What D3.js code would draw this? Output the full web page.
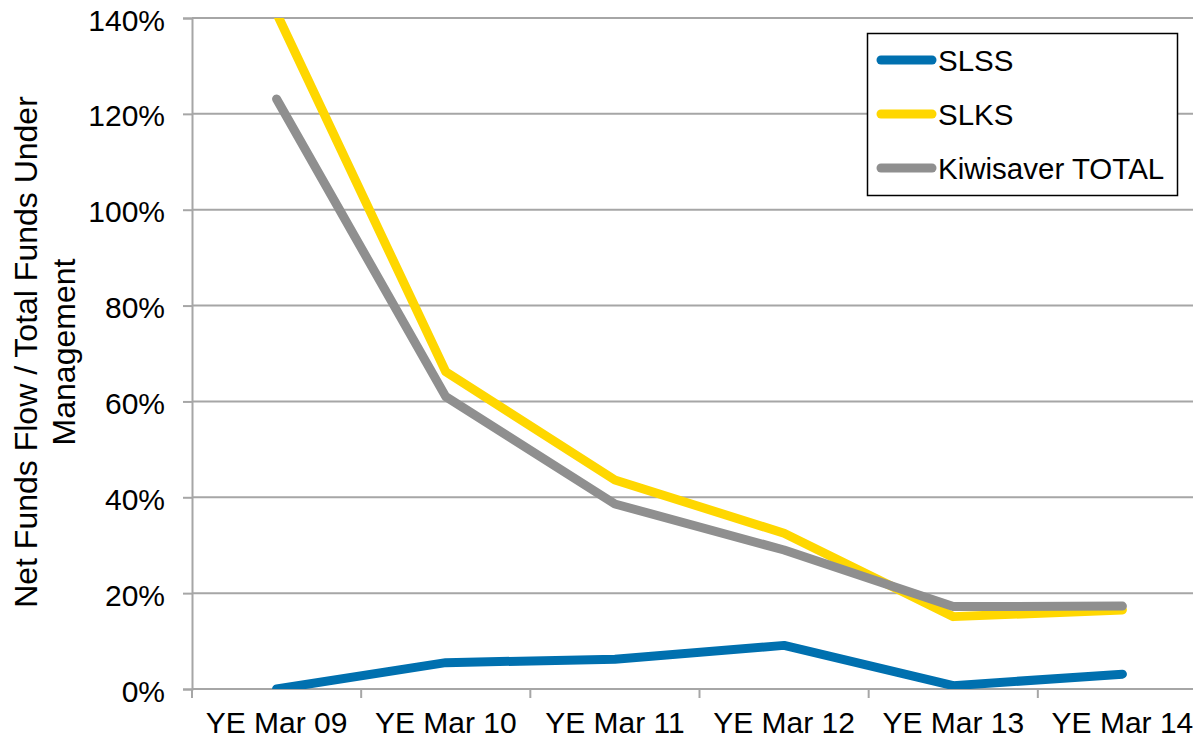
<!DOCTYPE html>
<html><head><meta charset="utf-8">
<script src="https://cdn.jsdelivr.net/npm/d3@7"></script>
<style>
html,body{margin:0;padding:0;background:#fff;overflow:hidden}
svg{display:block;font-family:"Liberation Sans",Arial,sans-serif}
</style></head>
<body>
<svg id="chart" width="1193" height="738"></svg>
<script>
const categories = ["YE Mar 09","YE Mar 10","YE Mar 11","YE Mar 12","YE Mar 13","YE Mar 14"];
const slss = [0.0, 5.5, 6.2, 9.1, 0.7, 3.1];
const slks = [141.0, 66.2, 43.6, 32.5, 15.1, 16.5];
const kiwisaverTotal = [123.1, 61.0, 38.6, 29.0, 17.2, 17.3];
const seriesNames = ["SLSS","SLKS","Kiwisaver TOTAL"];
const seriesColors = ["#0070AF","#FFD700","#8F8F8F"];
const yTicks = [0,20,40,60,80,100,120,140];

(function(){
const svg = d3.select("#chart");
const pL = 192, pR = 1207, pT = 18, pB = 689;
const gridColor = "#A6A6A6";
const FONT = '"Liberation Sans",Arial,sans-serif';

const x = d3.scaleBand().domain(categories).range([pL, pR]);
const y = d3.scaleLinear().domain([0,140]).range([pB, pT]);

// gridlines
svg.append("g").selectAll("line").data(yTicks).join("line")
  .attr("x1", pL).attr("x2", pR)
  .attr("y1", d=>y(d)).attr("y2", d=>y(d))
  .attr("stroke", gridColor).attr("stroke-width", 2);

// y axis
const yAxis = svg.append("g").attr("transform",`translate(${pL},0)`)
  .call(d3.axisLeft(y).tickValues(yTicks).tickSize(9).tickPadding(18).tickFormat(d=>d+"%"));
yAxis.select(".domain").attr("stroke", gridColor).attr("stroke-width", 2);
yAxis.selectAll(".tick line").attr("stroke", gridColor).attr("stroke-width", 2);
yAxis.selectAll(".tick text").attr("font-size", 30).attr("fill","#000")
  .attr("font-family",FONT).attr("dy","0.4em");

// x axis
const xAxis = svg.append("g").attr("transform",`translate(0,${pB})`)
  .call(d3.axisBottom(x).tickSize(0).tickPadding(24));
xAxis.select(".domain").remove();
xAxis.selectAll(".tick text").attr("font-size", 30).attr("fill","#000")
  .attr("font-family",FONT).attr("dy","0.68em");
const bounds = categories.map(c=>x(c)).concat([pR]);
svg.append("g").selectAll("line").data(bounds).join("line")
  .attr("x1", d=>d).attr("x2", d=>d).attr("y1", pB).attr("y2", pB+9)
  .attr("stroke", gridColor).attr("stroke-width", 2);
svg.append("line").attr("x1", pL).attr("x2", pR).attr("y1", pB).attr("y2", pB)
  .attr("stroke", gridColor).attr("stroke-width", 2);

// clip
svg.append("clipPath").attr("id","plotclip").append("rect")
  .attr("x", pL).attr("y", pT).attr("width", pR-pL).attr("height", pB-pT);

const allSeries = [slss, slks, kiwisaverTotal];
const line = d3.line().x((d,i)=>x(categories[i]) + x.bandwidth()/2).y(d=>y(d));
svg.append("g").attr("clip-path","url(#plotclip)").selectAll("path").data(allSeries).join("path")
  .attr("d", d=>line(d)).attr("fill","none")
  .attr("stroke", (d,i)=>seriesColors[i]).attr("stroke-width", 9)
  .attr("stroke-linejoin","round").attr("stroke-linecap","round");

// y label
const yl = svg.append("text").attr("transform","translate(0,352) rotate(-90)")
  .attr("text-anchor","middle").attr("font-size",32).attr("fill","#000");
yl.append("tspan").attr("x",0).attr("y",37).text("Net Funds Flow / Total Funds Under");
yl.append("tspan").attr("x",0).attr("y",75).text("Management");

// legend
const lg = svg.append("g");
lg.append("rect").attr("x",867.5).attr("y",33.5).attr("width",310).attr("height",162)
  .attr("fill","#fff").attr("stroke","#000").attr("stroke-width",1.5);
const ly = [60, 114, 168];
seriesNames.forEach((n,i)=>{
  lg.append("line").attr("x1",881).attr("x2",932).attr("y1",ly[i]).attr("y2",ly[i])
    .attr("stroke",seriesColors[i]).attr("stroke-width",9).attr("stroke-linecap","round");
  lg.append("text").attr("x",938).attr("y",ly[i]+11).attr("font-size",29.5).attr("fill","#000").text(n);
});
})();
</script>
</body></html>
